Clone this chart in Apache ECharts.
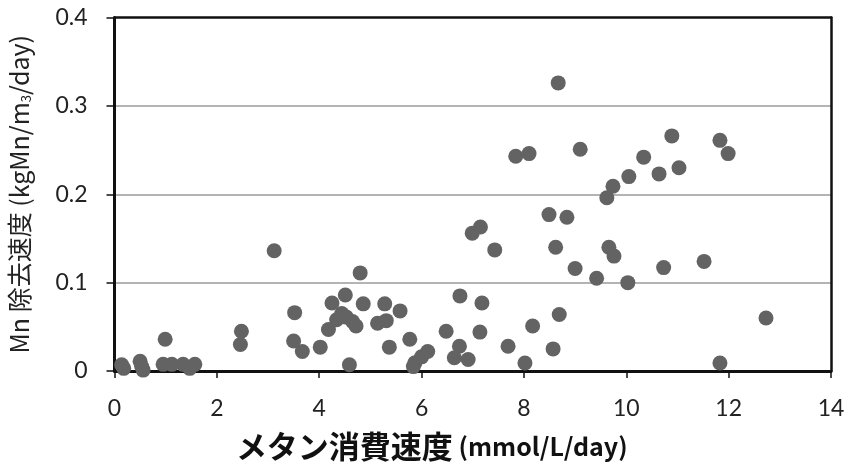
<!DOCTYPE html>
<html><head><meta charset="utf-8">
<script src="https://cdn.jsdelivr.net/npm/echarts@6/dist/echarts.min.js"></script>
<style>html,body{margin:0;padding:0;background:#fff}#c{width:850px;height:465px}</style>
</head><body><div id="c"></div>
<script>
const xTitleParts = ['メタン消費速度', ' (mmol/L/day)'];
const yTitleParts = ['Mn 除去速度 (kgMn/m', '3', '/day)'];
const xTicks = [0, 2, 4, 6, 8, 10, 12, 14];
const yTicks = [0, 0.1, 0.2, 0.3, 0.4];
const methaneRate = [
  0.14, 0.18, 0.50, 0.53, 0.56, 0.99, 0.95, 1.12, 1.34, 1.47, 1.57,
  2.46, 2.48, 3.12, 3.52, 3.50, 3.67, 4.02,
  4.25, 4.51, 4.18, 4.34, 4.44, 4.53, 4.65, 4.72, 4.80, 4.86, 4.59,
  5.14, 5.28, 5.31, 5.37, 5.58, 5.77, 5.84, 5.87, 6.00, 6.12,
  6.48, 6.75, 6.74, 6.64, 6.91, 6.99, 7.15, 7.43, 7.18, 7.14, 7.69,
  7.84, 8.10, 8.02, 8.17, 8.49, 8.84, 8.67, 8.62, 8.69, 8.57,
  9.10, 9.00, 9.42, 9.62, 9.74, 9.66, 9.76,
  10.03, 10.05, 10.34, 10.64, 10.73, 10.89, 11.03,
  11.52, 11.83, 11.99, 11.83, 12.73
];
const mnRemoval = [
  0.007, 0.003, 0.011, 0.005, 0.001, 0.036, 0.0075, 0.0075, 0.0075, 0.003, 0.0075,
  0.030, 0.045, 0.136, 0.066, 0.034, 0.022, 0.027,
  0.077, 0.086, 0.047, 0.058, 0.065, 0.061, 0.056, 0.051, 0.111, 0.076, 0.007,
  0.054, 0.076, 0.057, 0.027, 0.068, 0.036, 0.005, 0.0094, 0.016, 0.022,
  0.045, 0.085, 0.028, 0.015, 0.013, 0.156, 0.163, 0.137, 0.077, 0.044, 0.028,
  0.243, 0.246, 0.009, 0.051, 0.177, 0.174, 0.326, 0.140, 0.064, 0.025,
  0.251, 0.116, 0.105, 0.196, 0.209, 0.140, 0.130,
  0.100, 0.220, 0.242, 0.223, 0.117, 0.266, 0.230,
  0.124, 0.261, 0.246, 0.009, 0.060
];

const points = methaneRate.map((x, i) => [x, mnRemoval[i]]);
const chart = echarts.init(document.getElementById('c'), null, {renderer: 'canvas'});
const labelFont = 'Lato, "Noto Sans CJK JP", sans-serif';
const cjk = '"Noto Sans CJK JP", sans-serif';
const xMin = xTicks[0], xMax = xTicks[xTicks.length - 1];
const yMin = yTicks[0], yMax = yTicks[yTicks.length - 1];
const frameAxis = {
  axisLine: {show: true, onZero: false, lineStyle: {color: '#111', width: 2.5}},
  axisTick: {show: false}, axisLabel: {show: false}, splitLine: {show: false}
};
chart.setOption({
  animation: false,
  backgroundColor: '#fff',
  grid: {left: 114.5, right: 19, top: 17.5, bottom: 94, outerBoundsMode: 'none', containLabel: false},
  xAxis: [{
    type: 'value', min: xMin, max: xMax, interval: 2, position: 'bottom',
    axisLine: {show: true, onZero: false, lineStyle: {color: '#111', width: 3}},
    axisTick: {show: true, length: 7, inside: false, lineStyle: {color: '#111', width: 1.5}},
    splitLine: {show: false},
    axisLabel: {margin: 26, fontSize: 23, color: '#222', fontFamily: labelFont},
    name: '{c|' + xTitleParts[0] + '}{l|' + xTitleParts[1] + '}',
    nameLocation: 'middle', nameGap: 60,
    nameTextStyle: {
      fontSize: 30, fontWeight: 'bold', color: '#111', fontFamily: cjk,
      padding: [0, 82, 0, 0],
      rich: {
        c: {fontSize: 31, fontWeight: 'bold', color: '#111', fontFamily: cjk},
        l: {fontSize: 25, fontWeight: 'bold', color: '#111', fontFamily: cjk}
      }
    }
  }, Object.assign({type: 'value', min: xMin, max: xMax, position: 'top'}, frameAxis)],
  yAxis: [{
    type: 'value', min: yMin, max: yMax, interval: 0.1, position: 'left',
    axisLine: {show: true, onZero: false, lineStyle: {color: '#111', width: 3}},
    axisTick: {show: true, length: 8, inside: false, lineStyle: {color: '#111', width: 1.5}},
    splitLine: {show: true, showMaxLine: false, showMinLine: false, lineStyle: {color: '#b4b4b4', width: 2}},
    axisLabel: {margin: 27, fontSize: 23, color: '#222', fontFamily: labelFont,
                formatter: v => v === 0 ? '0' : v.toFixed(1)},
    name: '{a|' + yTitleParts[0] + '}{s|' + yTitleParts[1] + '}{a|' + yTitleParts[2] + '}',
    nameLocation: 'middle', nameGap: 82, nameRotate: 90,
    nameTextStyle: {
      color: '#222', fontFamily: cjk, fontSize: 25,
      rich: {
        a: {fontSize: 25, color: '#222', fontFamily: cjk},
        s: {fontSize: 13, color: '#222', fontFamily: cjk, verticalAlign: 'bottom', padding: [12, 0, 0, 0]}
      }
    }
  }, Object.assign({type: 'value', min: yMin, max: yMax, position: 'right'}, frameAxis)],
  series: [{
    type: 'scatter', data: points, symbol: 'circle', symbolSize: 15,
    xAxisIndex: 0, yAxisIndex: 0,
    itemStyle: {color: '#636363', opacity: 1}
  }]
});
</script>
</body></html>
